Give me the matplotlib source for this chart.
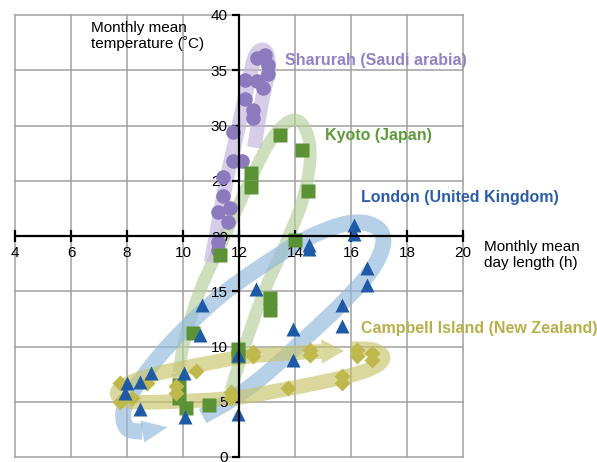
import numpy as np
import matplotlib
matplotlib.use("Agg")
import matplotlib.pyplot as plt
from matplotlib.patches import Polygon

plt.rcParams['font.family'] = ['Liberation Sans', 'DejaVu Sans']

# monthly mean day length (h) and temperature (C) per site
sharurah_day = [12.93, 12.63, 13.05, 13.05, 12.21, 12.63, 12.87, 12.21, 12.49, 12.49,
                11.80, 11.80, 12.10, 11.44, 11.44, 11.68, 11.26, 11.62, 11.26, 11.26]
sharurah_temp = [36.4, 36.1, 35.5, 34.7, 34.1, 34.0, 33.4, 32.4, 31.4, 30.7,
                 29.4, 26.8, 26.8, 25.3, 23.6, 22.5, 22.2, 21.3, 19.5, 18.7]

kyoto_day = [13.46, 14.24, 12.42, 12.42, 14.48, 14.00, 11.32, 13.10, 13.10, 10.37,
             11.98, 11.98, 9.86, 9.86, 10.11, 10.94]
kyoto_temp = [29.1, 27.8, 25.7, 24.4, 24.1, 19.6, 18.3, 14.4, 13.3, 11.2,
              9.8, 9.1, 6.5, 5.3, 4.4, 4.7]

london_day = [16.09, 16.09, 14.51, 14.51, 16.56, 16.56, 12.61, 15.67, 15.67, 13.94, 11.98,
              13.94, 11.98, 10.67, 10.61, 8.85, 8.46, 7.99, 7.93, 8.46, 10.04, 10.07]
london_temp = [21.0, 20.2, 19.2, 18.8, 17.1, 15.6, 15.2, 13.8, 11.9, 11.6, 9.2,
               8.8, 3.9, 13.8, 11.0, 7.6, 6.8, 6.7, 5.8, 4.3, 7.6, 3.6]

campbell_day = [12.51, 12.51, 14.54, 14.54, 16.20, 16.20, 16.74, 16.74, 15.67, 15.67,
                13.76, 11.70, 11.70, 10.46, 9.75, 9.75, 8.70, 7.75, 7.75, 8.17]
campbell_temp = [9.5, 9.1, 9.7, 9.2, 9.7, 9.1, 9.4, 8.8, 7.3, 6.7,
                 6.2, 5.9, 5.3, 7.8, 6.4, 5.8, 6.7, 6.7, 5.0, 5.3]

x_ticks = np.arange(4, 21, 2)
y_ticks = np.arange(0, 41, 5)

# hand-drawn seasonal loops (waypoints, last point = arrow tip)
sharurah_loop = [(11.0, 17.6), (11.25, 21.0), (11.55, 25.0), (11.95, 29.5), (12.3, 33.5),
                 (12.6, 36.4), (12.95, 36.7), (13.05, 35.0), (12.8, 32.0), (12.55, 28.0)]
kyoto_loop = [(11.7, 6.0), (12.2, 10.0), (12.9, 15.0), (13.7, 19.5), (14.3, 23.5),
              (14.55, 27.5), (14.3, 30.0), (13.8, 30.4), (13.1, 28.5), (12.3, 24.5),
              (11.4, 19.5), (10.6, 15.0), (10.05, 10.5), (9.85, 7.6), (9.95, 5.4)]
london_loop = [(10.7, 3.7), (11.8, 5.3), (13.0, 7.6), (14.3, 10.6), (15.6, 13.7),
               (16.7, 16.8), (17.15, 19.3), (16.9, 20.8), (16.0, 21.2), (14.6, 20.0),
               (13.0, 17.6), (11.2, 14.3), (9.6, 10.4), (8.5, 7.0), (7.9, 4.4),
               (8.0, 2.6), (8.55, 2.3), (9.45, 2.7)]
campbell_loop = [(16.0, 9.8), (16.8, 9.7), (17.15, 9.0), (16.8, 8.1), (15.7, 7.2),
                 (13.8, 6.2), (12.0, 5.4), (10.0, 5.05), (8.2, 5.0), (7.65, 5.7),
                 (8.0, 6.6), (9.0, 7.5), (10.5, 8.3), (12.0, 9.0), (13.5, 9.35),
                 (14.95, 9.55), (15.75, 9.6)]


def smooth(pts, n=24):
    # Catmull-Rom spline through the waypoints
    p = np.asarray(pts, float)
    p = np.vstack([p[0], p, p[-1]])
    out = []
    t = np.linspace(0, 1, n, endpoint=False)[:, None]
    for i in range(1, len(p) - 2):
        p0, p1, p2, p3 = p[i - 1], p[i], p[i + 1], p[i + 2]
        out.append(0.5 * (2 * p1 + (-p0 + p2) * t + (2 * p0 - 5 * p1 + 4 * p2 - p3) * t ** 2
                          + (-p0 + 3 * p1 - 3 * p2 + p3) * t ** 3))
    out.append(p[-2][None])
    return np.vstack(out)


def band(ax, pts, color, lw, head_w=None):
    body = pts[:-1] if head_w else pts
    xy = smooth(body)
    ax.plot(xy[:, 0], xy[:, 1], color=color, lw=lw, alpha=0.65,
            solid_capstyle='butt', solid_joinstyle='round', zorder=1)
    if head_w:
        b = ax.transData.transform(pts[-2])
        t = ax.transData.transform(pts[-1])
        d = t - b
        nrm = np.array([-d[1], d[0]]) / np.hypot(*d)
        verts = ax.transData.inverted().transform([b + nrm * head_w / 2, t, b - nrm * head_w / 2])
        ax.add_patch(Polygon(verts, closed=True, facecolor=color, edgecolor='none',
                             alpha=0.65, zorder=1))


fig = plt.figure(figsize=(5.97, 4.62), dpi=100)
ax = fig.add_axes([15 / 597, 5 / 462, 448 / 597, 442 / 462])
ax.set_xlim(4, 20)
ax.set_ylim(0, 40)
ax.set_xticks(x_ticks)
ax.set_yticks(y_ticks)

# grid drawn by hand so that it stays under everything while the axes stay on top
for xv in x_ticks:
    ax.axvline(xv, color='#a0a0a0', lw=1.1, zorder=0.5, clip_on=False)
for yv in y_ticks:
    ax.axhline(yv, color='#a0a0a0', lw=1.1, zorder=0.5, clip_on=False)

for s in ['top', 'right']:
    ax.spines[s].set_visible(False)
ax.spines['left'].set_position(('data', 12))
ax.spines['bottom'].set_position(('data', 20))
ax.spines['left'].set_linewidth(1.6)
ax.spines['bottom'].set_linewidth(1.6)
ax.tick_params(axis='x', direction='inout', length=8, width=1.6, pad=3, labelsize=11)
ax.tick_params(axis='y', direction='out', length=5, width=1.6, pad=3, labelsize=11)

band(ax, kyoto_loop, '#b5cf9a', 9, head_w=16)
band(ax, sharurah_loop, '#c2b3dc', 10.5)
band(ax, london_loop, '#8fb8dc', 11.5, head_w=22)
band(ax, campbell_loop, '#c8c36a', 10.5, head_w=24)

# markers sit under the axis lines and tick labels
ax.plot(sharurah_day, sharurah_temp, 'o', color='#8c7abf', ms=10.5, mec='none', zorder=2.1)
ax.plot(kyoto_day, kyoto_temp, 's', color='#5b9236', ms=10, mec='none', zorder=2.2)
ax.plot(campbell_day, campbell_temp, 'D', color='#bfb84c', ms=8.5, mec='none', zorder=2.3)
ax.plot(london_day, london_temp, '^', color='#1f5aa6', ms=10.5, mec='none', zorder=2.4)

ax.text(6.72, 39.5, 'Monthly mean\ntemperature (˚C)', fontsize=11, ha='left', va='top',
        linespacing=1.15)
ax.text(20.75, 19.6, 'Monthly mean\nday length (h)', fontsize=11, ha='left', va='top',
        linespacing=1.15, clip_on=False)

ax.text(13.64, 35.9, 'Sharurah (Saudi arabia)', color='#9481c4', fontsize=11.5,
        fontweight='bold', va='center')
ax.text(15.07, 29.1, 'Kyoto (Japan)', color='#5e9a3a', fontsize=11.5,
        fontweight='bold', va='center')
ax.text(16.36, 23.5, 'London (United Kingdom)', color='#2c5ea8', fontsize=11.5,
        fontweight='bold', va='center')
ax.text(16.36, 11.6, 'Campbell Island (New Zealand)', color='#b8b04a', fontsize=11.5,
        fontweight='bold', va='center', clip_on=False)

fig.savefig('out.png', dpi=100)
